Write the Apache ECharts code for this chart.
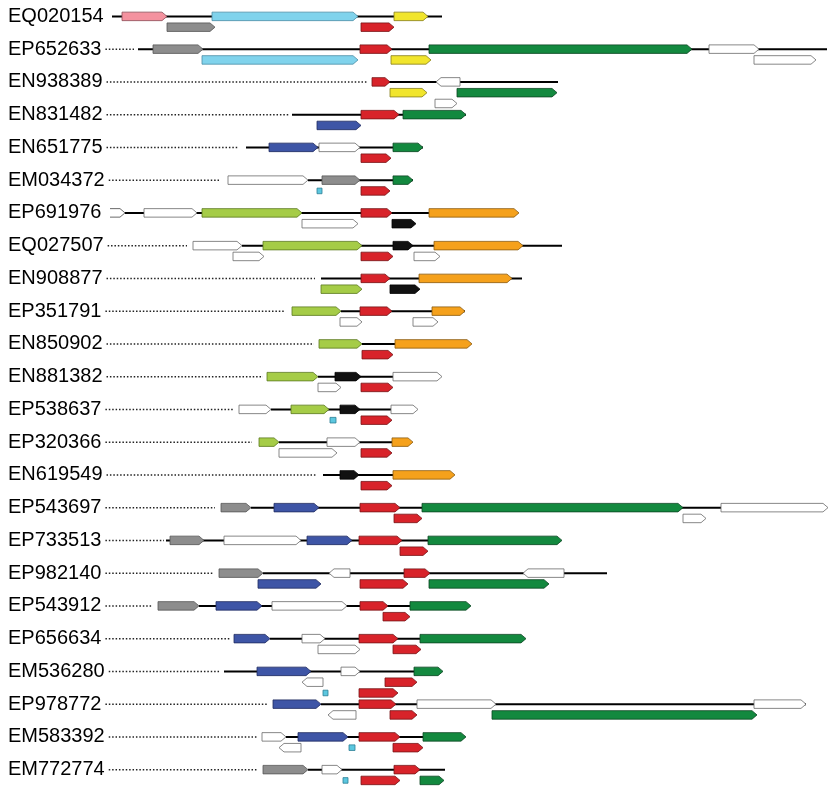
<!DOCTYPE html>
<html><head><meta charset="utf-8">
<script src="https://cdn.jsdelivr.net/npm/echarts@6/dist/echarts.min.js"></script>
<style>html,body{margin:0;padding:0;background:#fff}#c{width:834px;height:789px}</style>
</head><body><div id="c"></div>
<script>
// Row labels (top to bottom)
const rows = ['EQ020154','EP652633','EN938389','EN831482','EN651775','EM034372','EP691976','EQ027507',
  'EN908877','EP351791','EN850902','EN881382','EP538637','EP320366','EN619549','EP543697',
  'EP733513','EP982140','EP543912','EP656634','EM536280','EP978772','EM583392','EM772774'];

// Backbone (black line) start / end along the locus axis
const backboneStart = [112,138,372,292,246,308,125,242,321,341,362,318,271,279,323,251,166,263,199,270,224,321,286,308];
const backboneEnd   = [442,827,558,466,423,413,430,562,522,465,395,393,391,392,393,721,428,607,410,420,415,806,423,445];

// End of the dotted leader after each label (null = no leader)
const leaderEnd = [null,134,367,289,239,219,null,187,315,284,314,263,233,252,317,215,164,213,152,231,220,268,258,258];

// Genes: [row, level, start, end, colour key, strand]  strand 1 = forward, -1 = reverse, 0 = small box, 2 = open/truncated
const genes = [
  [0,0,122,167,'pink',1],[0,0,212,358,'lblue',1],[0,0,394,428,'yellow',1],[0,1,167,215,'gray',1],[0,1,361,394,'red',1],
  [1,0,153,203,'gray',1],[1,0,360,392,'red',1],[1,0,429,692,'green',1],[1,0,709,759,'white',1],[1,1,202,358,'lblue',1],[1,1,391,431,'yellow',1],[1,1,754,816,'white',1],
  [2,0,372,390,'red',1],[2,0,436,460,'white',-1],[2,1,390,427,'yellow',1],[2,1,457,557,'green',1],[2,2,435,457,'white',1],
  [3,0,361,399,'red',1],[3,0,403,466,'green',1],[3,1,317,361,'blue',1],
  [4,0,269,318,'blue',1],[4,0,319,360,'white',1],[4,0,393,423,'green',1],[4,1,361,391,'red',1],
  [5,0,228,308,'white',1],[5,0,322,360,'gray',1],[5,0,393,413,'green',1],[5,1,317,322,'cyan',0],[5,1,361,390,'red',1],
  [6,0,110,125,'white',2],[6,0,144,197,'white',1],[6,0,202,302,'lime',1],[6,0,361,392,'red',1],[6,0,429,519,'orange',1],[6,1,302,358,'white',1],[6,1,392,416,'black',1],
  [7,0,193,242,'white',1],[7,0,263,362,'lime',1],[7,0,393,413,'black',1],[7,0,434,523,'orange',1],[7,1,233,264,'white',1],[7,1,361,393,'red',1],[7,1,414,440,'white',1],
  [8,0,361,390,'red',1],[8,0,419,512,'orange',1],[8,1,321,362,'lime',1],[8,1,390,420,'black',1],
  [9,0,292,341,'lime',1],[9,0,360,392,'red',1],[9,0,432,465,'orange',1],[9,1,340,362,'white',1],[9,1,413,438,'white',1],
  [10,0,319,362,'lime',1],[10,0,395,472,'orange',1],[10,1,362,393,'red',1],
  [11,0,267,318,'lime',1],[11,0,335,361,'black',1],[11,0,393,442,'white',1],[11,1,318,341,'white',1],[11,1,361,393,'red',1],
  [12,0,239,271,'white',1],[12,0,291,329,'lime',1],[12,0,340,360,'black',1],[12,0,391,418,'white',1],[12,1,330,336,'cyan',0],[12,1,361,392,'red',1],
  [13,0,259,279,'lime',1],[13,0,327,360,'white',1],[13,0,392,413,'orange',1],[13,1,279,337,'white',1],[13,1,361,392,'red',1],
  [14,0,340,359,'black',1],[14,0,393,455,'orange',1],[14,1,361,392,'red',1],
  [15,0,221,251,'gray',1],[15,0,274,319,'blue',1],[15,0,360,400,'red',1],[15,0,422,683,'green',1],[15,0,721,828,'white',1],[15,1,394,422,'red',1],[15,1,683,706,'white',1],
  [16,0,170,204,'gray',1],[16,0,224,301,'white',1],[16,0,307,352,'blue',1],[16,0,359,402,'red',1],[16,0,428,562,'green',1],[16,1,400,428,'red',1],
  [17,0,219,263,'gray',1],[17,0,329,350,'white',-1],[17,0,404,430,'red',1],[17,0,523,564,'white',-1],[17,1,258,321,'blue',1],[17,1,360,408,'red',1],[17,1,429,549,'green',1],
  [18,0,158,199,'gray',1],[18,0,216,262,'blue',1],[18,0,272,347,'white',1],[18,0,360,388,'red',1],[18,0,410,471,'green',1],[18,1,383,410,'red',1],
  [19,0,234,270,'blue',1],[19,0,302,325,'white',1],[19,0,359,398,'red',1],[19,0,420,526,'green',1],[19,1,318,360,'white',1],[19,1,393,421,'red',1],
  [20,0,257,311,'blue',1],[20,0,341,360,'white',1],[20,0,414,443,'green',1],[20,1,302,323,'white',-1],[20,1,385,417,'red',1],[20,2,323,328,'cyan',0],[20,2,359,398,'red',1],
  [21,0,273,321,'blue',1],[21,0,359,396,'red',1],[21,0,417,496,'white',1],[21,0,754,806,'white',1],[21,1,328,356,'white',-1],[21,1,390,417,'red',1],[21,1,492,757,'green',1],
  [22,0,262,286,'white',1],[22,0,298,348,'blue',1],[22,0,359,400,'red',1],[22,0,423,466,'green',1],[22,1,279,301,'white',-1],[22,1,349,355,'cyan',0],[22,1,393,423,'red',1],
  [23,0,263,308,'gray',1],[23,0,322,342,'white',1],[23,0,394,420,'red',1],[23,1,343,348,'cyan',0],[23,1,361,400,'red',1],[23,1,420,444,'green',1]
];

// fill / outline per gene family
const palette = {
  pink:['#f4929f','#8c4c57'], lblue:['#80d3ec','#4b8ea6'], yellow:['#f1e52c','#867d1c'],
  red:['#d8232a','#761417'], gray:['#8d8d8d','#555555'], green:['#13893f','#0b4522'],
  blue:['#3e55a6','#1f2b60'], white:['#ffffff','#6a6a6a'], lime:['#a5cc47','#5a7920'],
  orange:['#f5a11c','#8a5a10'], black:['#111111','#000000'], cyan:['#5cc7df','#2c7f95']
};

const FONT_FAMILY = '"Liberation Sans", Arial, sans-serif';
const FONT_SIZE = 20;
const LABEL_X = 8;
const LV = 10.8, H = 8.5, TIP = 5;
const mctx = document.createElement('canvas').getContext('2d');
mctx.font = FONT_SIZE + 'px ' + FONT_FAMILY;

const chart = echarts.init(document.getElementById('c'), null, {renderer:'canvas'});

chart.setOption({
  animation:false,
  backgroundColor:'#fff',
  grid:{left:0,right:0,top:0,bottom:3},
  xAxis:{type:'value',min:0,max:834,show:false},
  yAxis:{type:'category',data:rows,inverse:true,
    axisLine:{show:false},axisTick:{show:false},splitLine:{show:false},
    axisLabel:{inside:true,margin:LABEL_X,fontSize:FONT_SIZE,color:'#000',fontFamily:FONT_FAMILY}},
  series:[
    {type:'custom', encode:{x:0,y:1}, silent:true,
     data: leaderEnd.map((e,i)=> e==null ? null : [e,i]).filter(d=>d),
     renderItem:function(params, api){
       const row = api.value(1);
       const p = api.coord([api.value(0), row]);
       const xs = LABEL_X + mctx.measureText(rows[row]).width + 4;
       return {type:'line', shape:{x1:xs,y1:p[1],x2:p[0],y2:p[1]},
         style:{stroke:'#222',lineWidth:1.5,lineDash:[1.5,1.9]}};
     }},
    {type:'custom', encode:{x:[0,1],y:2}, silent:true,
     data: rows.map((r,i)=>[backboneStart[i],backboneEnd[i],i]),
     renderItem:function(params, api){
       const a = api.coord([api.value(0), api.value(2)]);
       const b = api.coord([api.value(1), api.value(2)]);
       return {type:'line', shape:{x1:a[0],y1:a[1],x2:b[0],y2:b[1]}, style:{stroke:'#000',lineWidth:2}};
     }},
    {type:'custom', encode:{x:[2,3],y:0}, silent:true,
     data: genes.map(g=>[g[0],g[1],g[2],g[3]]),
     renderItem:function(params, api){
       const g = genes[params.dataIndex];
       const row=g[0], level=g[1], key=g[4], strand=g[5];
       const p0 = api.coord([g[2], row]), p1 = api.coord([g[3], row]);
       const y = p0[1] + level*LV, x0 = p0[0], x1 = p1[0];
       const c = palette[key];
       if (strand === 0) {
         return {type:'rect', shape:{x:x0,y:y-2.8,width:x1-x0,height:5.6}, style:{fill:c[0],stroke:c[1],lineWidth:0.8}};
       }
       const h = H/2, t = Math.min(TIP,(x1-x0)*0.45);
       let pts;
       if (strand > 0) pts = [[x0,y-h],[x1-t,y-h],[x1,y],[x1-t,y+h],[x0,y+h]];
       else pts = [[x1,y-h],[x0+t,y-h],[x0,y],[x0+t,y+h],[x1,y+h]];
       if (strand === 2) return {type:'polyline', shape:{points:pts}, style:{fill:null,stroke:c[1],lineWidth:1}};
       return {type:'polygon', shape:{points:pts}, style:{fill:c[0],stroke:c[1],lineWidth:0.8}};
     }}
  ]
});
</script></body></html>
